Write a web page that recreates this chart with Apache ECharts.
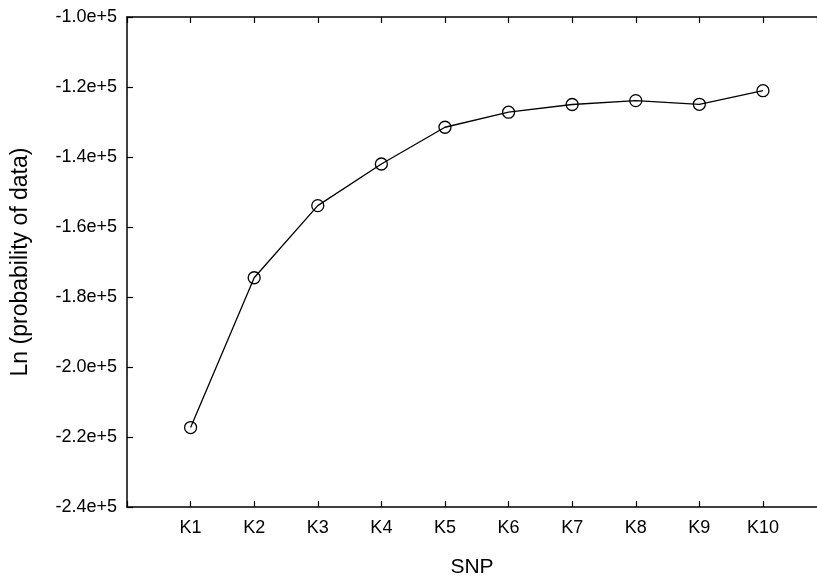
<!DOCTYPE html>
<html><head><meta charset="utf-8">
<script src="https://cdn.jsdelivr.net/npm/echarts@6/dist/echarts.min.js"></script>
<style>html,body{margin:0;padding:0;background:#fff}#c{width:817px;height:579px}</style>
</head><body><div id="c"></div>
<script>
var categories = ['K1','K2','K3','K4','K5','K6','K7','K8','K9','K10'];
var values = [-217300, -174500, -153900, -142000, -131500, -127200, -125000, -123900, -124950, -121050];
var yTicks = [-240000, -220000, -200000, -180000, -160000, -140000, -120000, -100000];

var chart = echarts.init(document.getElementById('c'), null, {renderer:'canvas'});
var font = 'Liberation Sans, Arial, sans-serif';
var data = values.map(function(v,i){return [i+1, v];});
function fmtY(v){ return (v/1e5).toFixed(1) + 'e+5'; }
var xMax = 10.85;
var axisStyle = {lineStyle:{color:'#000', width:1.5}};
var tickStyle = {show:true, inside:true, length:6, lineStyle:{color:'#000', width:1.2}};
chart.setOption({
  animation:false,
  grid:{left:127, right:0, top:17, bottom:72, containLabel:false, outerBoundsMode:'none'},
  xAxis:[{
    type:'value', min:0, max:xMax, interval:1,
    axisLine:axisStyle,
    axisTick:tickStyle,
    axisLabel:{color:'#000', fontFamily:font, fontSize:18, margin:12, showMaxLabel:false,
      formatter:function(v){ return (v>=1 && v<=categories.length && v%1===0) ? categories[v-1] : ''; }},
    splitLine:{show:false},
    name:'SNP', nameLocation:'middle', nameGap:50,
    nameTextStyle:{color:'#000', fontFamily:font, fontSize:21}
  },{
    type:'value', position:'top', min:0, max:xMax, interval:1,
    axisLine:axisStyle,
    axisTick:tickStyle,
    axisLabel:{show:false}, splitLine:{show:false}
  }],
  yAxis:[{
    type:'value', min:yTicks[0], max:yTicks[yTicks.length-1], interval:20000,
    axisLine:axisStyle,
    axisTick:tickStyle,
    axisLabel:{color:'#000', fontFamily:font, fontSize:18, margin:10, formatter:fmtY},
    splitLine:{show:false},
    name:'Ln (probability of data)', nameLocation:'middle', nameGap:95, nameRotate:90,
    nameTextStyle:{color:'#000', fontFamily:font, fontSize:23}
  }],
  series:[{
    type:'line', data:data,
    symbol:'circle', symbolSize:12, showAllSymbol:true,
    lineStyle:{color:'#000', width:1.3},
    itemStyle:{color:'rgba(255,255,255,0)', borderColor:'#000', borderWidth:1.3}
  }]
});
</script></body></html>
